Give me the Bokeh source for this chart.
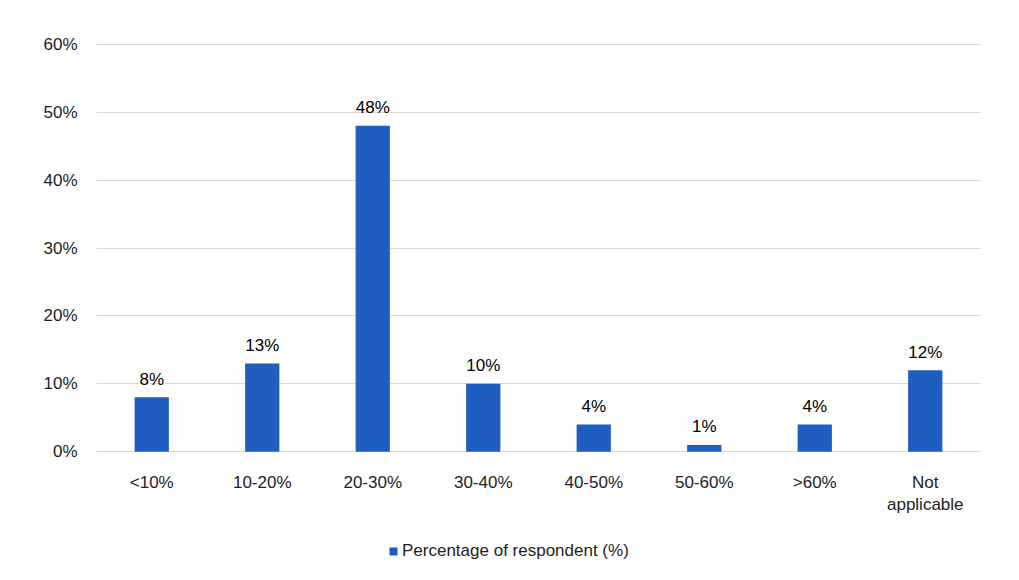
from bokeh.plotting import figure
from bokeh.layouts import column
from bokeh.models import (ColumnDataSource, NumeralTickFormatter, Legend, LegendItem,
                          FixedTicker, Range1d, FactorRange)
from bokeh.embed import file_html
from bokeh.resources import INLINE
from bokeh.core.properties import value

categories = ["<10%", "10-20%", "20-30%", "30-40%", "40-50%", "50-60%", ">60%", "Not\napplicable"]
values = [0.08, 0.13, 0.48, 0.10, 0.04, 0.01, 0.04, 0.12]
labels = ["8%", "13%", "48%", "10%", "4%", "1%", "4%", "12%"]
yticks = [0, 0.1, 0.2, 0.3, 0.4, 0.5, 0.6]
series_name = "Percentage of respondent (%)"

BLUE = "#1f5dc0"
FONT = "Liberation Sans"

src = ColumnDataSource(dict(cat=categories, val=values, lab=labels))

p = figure(x_range=categories, width=1011, height=520, output_backend="svg",
           toolbar_location=None, min_border_left=96, min_border_right=31,
           min_border_top=43, min_border_bottom=68, outline_line_color=None)
p.y_range = Range1d(-0.0012, 0.6012)

r = p.vbar(x="cat", top="val", width=0.31, source=src, color=BLUE, line_color=None)
p.text(x="cat", y="val", text="lab", source=src, text_align="center",
       text_baseline="alphabetic", y_offset=-18, text_font=value(FONT),
       text_font_size="17px", text_color="#000000")

p.yaxis.ticker = FixedTicker(ticks=yticks)
p.yaxis.formatter = NumeralTickFormatter(format="0%")
for ax in (p.xaxis, p.yaxis):
    ax.axis_line_color = None
    ax.major_tick_line_color = None
    ax.minor_tick_line_color = None
    ax.major_tick_out = 0
    ax.minor_tick_out = 0
    ax.major_label_text_font = FONT
    ax.major_label_text_font_size = "17px"
    ax.major_label_text_color = "#222222"
p.yaxis.major_label_standoff = 19
p.xaxis.major_label_standoff = 20

p.xgrid.grid_line_color = None
p.ygrid.grid_line_color = "#d9d9d9"
p.ygrid.grid_line_width = 1
p.ygrid.ticker = FixedTicker(ticks=yticks)

# legend strip below the chart (its bars lie outside its visible range)
lf = figure(x_range=FactorRange(factors=categories), y_range=Range1d(1, 2),
            width=1011, height=52, output_backend="svg", toolbar_location=None,
            min_border=0, x_axis_location=None, y_axis_location=None,
            outline_line_color=None)
lf.xgrid.grid_line_color = None
lf.ygrid.grid_line_color = None
lr = lf.vbar(x="cat", top="val", width=0.31, source=src, color=BLUE, line_color=None)

legend = Legend(items=[LegendItem(label=series_name, renderers=[lr])],
                location=(292, 11), orientation="horizontal",
                border_line_color=None, background_fill_alpha=0,
                label_text_font=FONT, label_text_font_size="17px",
                label_text_color="#222222", glyph_width=10, glyph_height=10,
                label_standoff=4, padding=0, margin=0)
lf.add_layout(legend, "center")

layout = column(p, lf, spacing=0)
open("out.html", "w").write(file_html(layout, INLINE))
